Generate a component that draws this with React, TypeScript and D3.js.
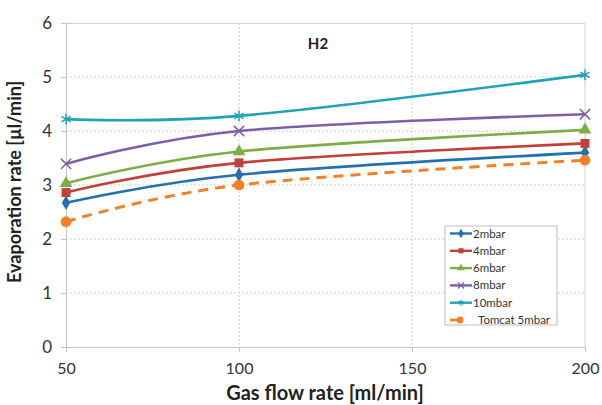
import React, { useRef, useEffect } from 'react';
import * as d3 from 'd3';

const flowRates = [50, 100, 200];
const xTicks = [50, 100, 150, 200];
const yTicks = [0, 1, 2, 3, 4, 5, 6];

const seriesNames = ['2mbar', '4mbar', '6mbar', '8mbar', '10mbar', 'Tomcat 5mbar'];
const mbar2 = [2.67, 3.19, 3.6];
const mbar4 = [2.86, 3.41, 3.77];
const mbar6 = [3.03, 3.62, 4.02];
const mbar8 = [3.39, 4.0, 4.31];
const mbar10 = [4.22, 4.28, 5.04];
const tomcat5 = [2.32, 3.0, 3.46];

const seriesValues = [mbar2, mbar4, mbar6, mbar8, mbar10, tomcat5];
const colors = ['#2270B0', '#C0403A', '#7FAD45', '#7D5FA5', '#22A2B8', '#F58025'];
const symbols = [
  d3.symbolDiamond,
  d3.symbolSquare,
  d3.symbolTriangle,
  d3.symbolX,
  d3.symbolAsterisk,
  d3.symbolCircle,
];
const strokeSymbol = [false, false, false, true, true, false];
const symbolSizes = [60, 80, 70, 70, 80, 90];

const font = 'Lato, "Open Sans", sans-serif';

const App = () => {
  const chartRef = useRef<SVGSVGElement | null>(null);

  useEffect(() => {
    const width = 602;
    const height = 405;
    const margin = { top: 23, right: 17, bottom: 58, left: 66 };
    const innerW = width - margin.left - margin.right;
    const innerH = height - margin.top - margin.bottom;

    const svg = d3.select(chartRef.current);
    svg.selectAll('*').remove();

    const g = svg
      .append('g')
      .attr('transform', `translate(${margin.left}, ${margin.top})`);

    const x = d3.scaleLinear().domain([50, 200]).range([0, innerW]);
    const y = d3.scaleLinear().domain([0, 6]).range([innerH, 0]);

    // grid
    g.append('g')
      .selectAll('line')
      .data(yTicks.filter((d) => d > 0 && d < 6))
      .join('line')
      .attr('x1', 0)
      .attr('x2', innerW)
      .attr('y1', (d) => y(d))
      .attr('y2', (d) => y(d))
      .attr('stroke', '#cfcfcf')
      .attr('stroke-dasharray', '2,2');

    g.append('g')
      .selectAll('line')
      .data(xTicks.filter((d) => d > 50 && d < 200))
      .join('line')
      .attr('x1', (d) => x(d))
      .attr('x2', (d) => x(d))
      .attr('y1', 0)
      .attr('y2', innerH)
      .attr('stroke', '#cfcfcf')
      .attr('stroke-dasharray', '2,2');

    // frame (top and right)
    g.append('path')
      .attr('d', `M0,0.5H${innerW}V${innerH}`)
      .attr('fill', 'none')
      .attr('stroke', '#d0d0d0');

    // axes
    g.append('g')
      .attr('transform', `translate(0, ${innerH})`)
      .call(d3.axisBottom(x).tickValues(xTicks).tickSize(5).tickPadding(11))
      .call((a) => a.select('.domain').attr('stroke', '#c4c4c4'))
      .call((a) => a.selectAll('.tick line').attr('stroke', '#c4c4c4'))
      .call((a) =>
        a
          .selectAll('text')
          .attr('fill', '#333')
          .attr('font-size', '16px')
          .attr('font-family', font)
      );

    g.append('g')
      .call(
        d3
          .axisLeft(y)
          .tickValues(yTicks)
          .tickFormat(d3.format('d'))
          .tickSize(5)
          .tickPadding(9)
      )
      .call((a) => a.select('.domain').attr('stroke', '#c4c4c4'))
      .call((a) => a.selectAll('.tick line').attr('stroke', '#c4c4c4'))
      .call((a) =>
        a
          .selectAll('text')
          .attr('fill', '#333')
          .attr('font-size', '17px')
          .attr('font-family', font)
      );

    // lines
    const line = d3
      .line<number>()
      .curve(d3.curveCardinal.tension(0))
      .x((_, i) => x(flowRates[i]))
      .y((d) => y(d));

    seriesValues.forEach((vals, si) => {
      g.append('path')
        .datum(vals)
        .attr('fill', 'none')
        .attr('stroke', colors[si])
        .attr('stroke-width', si === 5 ? 3 : 2.6)
        .attr('stroke-dasharray', si === 5 ? '10,7' : null)
        .attr('d', line);

      const sym = d3.symbol().type(symbols[si]).size(symbolSizes[si]);
      g.append('g')
        .selectAll('path')
        .data(vals)
        .join('path')
        .attr('transform', (d, i) => `translate(${x(flowRates[i])}, ${y(d)})`)
        .attr('d', sym)
        .attr('fill', strokeSymbol[si] ? 'none' : colors[si])
        .attr('stroke', strokeSymbol[si] ? colors[si] : 'none')
        .attr('stroke-width', 1.5);
    });

    // inner title
    svg
      .append('text')
      .attr('x', 318)
      .attr('y', 49)
      .attr('text-anchor', 'middle')
      .attr('font-family', font)
      .attr('font-weight', 'bold')
      .attr('font-size', '15px')
      .attr('fill', '#222')
      .text('H2');

    // axis titles
    svg
      .append('text')
      .attr('x', 325)
      .attr('y', 400)
      .attr('text-anchor', 'middle')
      .attr('font-family', font)
      .attr('font-weight', 'bold')
      .attr('font-size', '20px')
      .attr('fill', '#222')
      .text('Gas flow rate [ml/min]');

    svg
      .append('text')
      .attr('transform', 'translate(21, 182) rotate(-90)')
      .attr('text-anchor', 'middle')
      .attr('font-family', font)
      .attr('font-weight', 'bold')
      .attr('font-size', '18px')
      .attr('fill', '#222')
      .text('Evaporation rate [µl/min]');

    // legend
    const legend = svg.append('g').attr('transform', 'translate(445, 226)');
    legend
      .append('rect')
      .attr('width', 112)
      .attr('height', 99)
      .attr('fill', '#fff')
      .attr('stroke', '#bdbdbd');

    seriesNames.forEach((name, si) => {
      const ly = 7.5 + si * 17.3;
      const item = legend.append('g').attr('transform', `translate(0, ${ly})`);
      if (si === 5) {
        item
          .append('line')
          .attr('x1', 5)
          .attr('x2', 12)
          .attr('stroke', colors[si])
          .attr('stroke-width', 2.6);
        item
          .append('path')
          .attr('transform', 'translate(15, 0)')
          .attr('d', d3.symbol().type(symbols[si]).size(36))
          .attr('fill', colors[si]);
      } else {
        item
          .append('line')
          .attr('x1', 5)
          .attr('x2', 27)
          .attr('stroke', colors[si])
          .attr('stroke-width', 2.4);
        item
          .append('path')
          .attr('transform', 'translate(16, 0)')
          .attr('d', d3.symbol().type(symbols[si]).size(26))
          .attr('fill', strokeSymbol[si] ? 'none' : colors[si])
          .attr('stroke', strokeSymbol[si] ? colors[si] : 'none')
          .attr('stroke-width', 1.2);
      }
      item
        .append('text')
        .attr('x', si === 5 ? 33 : 28)
        .attr('y', 0)
        .attr('dy', '0.35em')
        .attr('font-family', font)
        .attr('font-size', '11.5px')
        .attr('fill', '#333')
        .text(name);
    });
  }, []);

  return (
    <svg
      ref={chartRef}
      width={602}
      height={405}
      style={{ position: 'absolute', left: 0, top: 0, background: '#fff' }}
    />
  );
};

export default App;
